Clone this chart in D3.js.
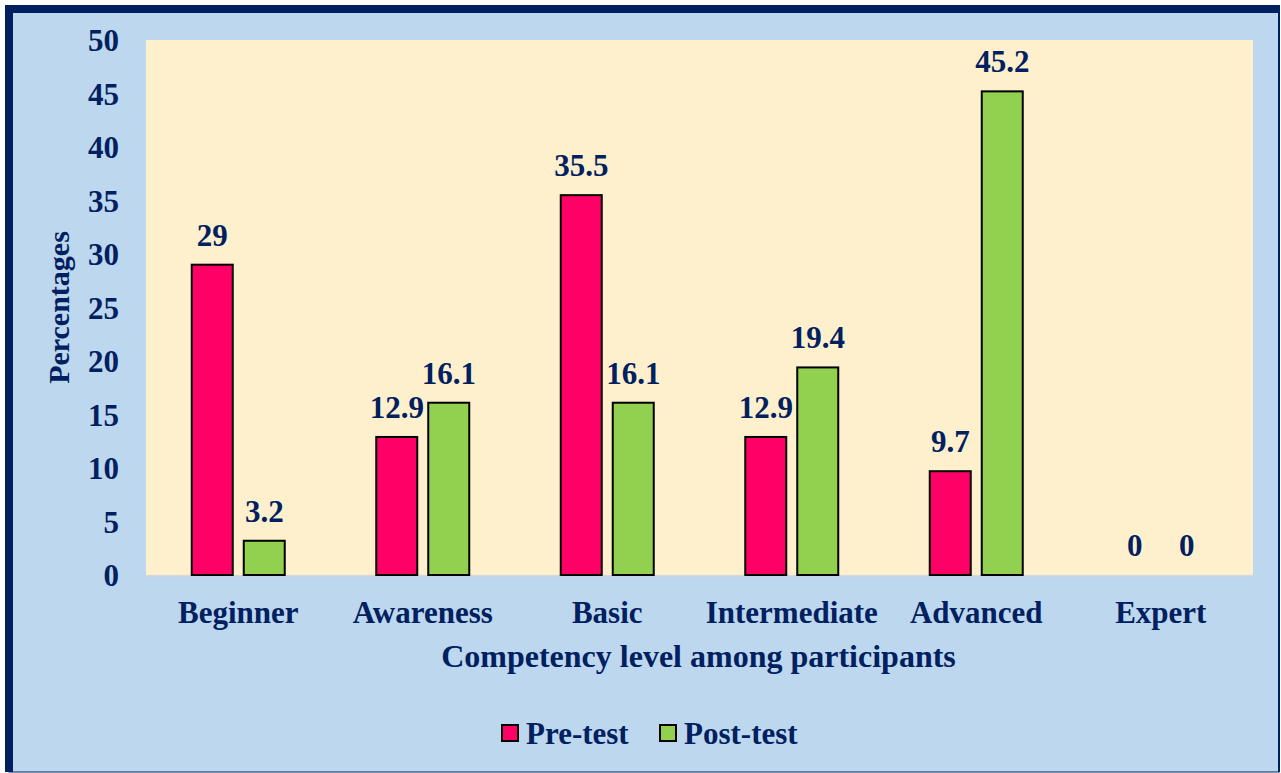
<!DOCTYPE html>
<html>
<head>
<meta charset="utf-8">
<script src="https://cdn.jsdelivr.net/npm/d3@7"></script>
<style>
  body { margin: 0; background: #fff; }
  svg text { font-family: "Liberation Serif", "Times New Roman", serif; font-weight: bold; fill: #002060; }
</style>
</head>
<body>
<div id="chart"></div>
<script>
const categories = ["Beginner", "Awareness", "Basic", "Intermediate", "Advanced", "Expert"];
const preTest = [29, 12.9, 35.5, 12.9, 9.7, 0];
const postTest = [3.2, 16.1, 16.1, 19.4, 45.2, 0];
const yTicks = [0, 5, 10, 15, 20, 25, 30, 35, 40, 45, 50];
const seriesNames = ["Pre-test", "Post-test"];
const seriesColors = ["#ff0066", "#92d050"];

const W = 1281, H = 773;
const m = { left: 146, right: 1253, top: 40, bottom: 575 };
const fs = 31;

const svg = d3.select("#chart").append("svg").attr("width", W).attr("height", H);

// outer frame
svg.append("rect").attr("x", 0).attr("y", 0).attr("width", W).attr("height", H).attr("fill", "#fff");
svg.append("rect").attr("x", 9).attr("y", 9).attr("width", W - 11).attr("height", H - 10)
  .attr("fill", "#bdd7ee").attr("stroke", "#002060").attr("stroke-width", 1);
svg.append("path").attr("d", `M9,${H - 1} V9 H${W - 2}`).attr("fill", "none")
  .attr("stroke", "#002060").attr("stroke-width", 8);
svg.append("line").attr("x1", W - 2).attr("x2", W - 2).attr("y1", 5).attr("y2", H - 1)
  .attr("stroke", "#002060").attr("stroke-width", 2);

// plot area
svg.append("rect").attr("x", m.left).attr("y", m.top)
  .attr("width", m.right - m.left).attr("height", m.bottom - m.top).attr("fill", "#fef0cd");

const x = d3.scaleBand().domain(categories).range([m.left, m.right]);
const y = d3.scaleLinear().domain([0, 50]).range([m.bottom, m.top]);

// baseline
svg.append("line").attr("x1", m.left).attr("x2", m.right).attr("y1", m.bottom + 0.5).attr("y2", m.bottom + 0.5)
  .attr("stroke", "#d9d9d9").attr("stroke-width", 1.5);

// y axis labels
const yAxis = svg.append("g").attr("transform", `translate(${m.left - 27},0)`)
  .call(d3.axisLeft(y).tickValues(yTicks).tickSize(0).tickPadding(0));
yAxis.select(".domain").remove();
yAxis.selectAll("text").attr("font-size", fs).attr("dy", "0.34em");

// x axis labels
const xAxis = svg.append("g").attr("transform", `translate(0,${m.bottom})`)
  .call(d3.axisBottom(x).tickSize(0).tickPadding(0));
xAxis.select(".domain").remove();
xAxis.selectAll("text").attr("font-size", fs).attr("y", 48).attr("dy", 0);

const barW = 41, gap = 11;
const series = [preTest, postTest];
series.forEach((vals, si) => {
  const off = si === 0 ? -gap / 2 - barW : gap / 2;
  const g = svg.append("g");
  g.selectAll("rect").data(vals.map((v, i) => ({ v, c: categories[i] })))
    .join("rect")
    .filter(d => d.v > 0)
    .attr("x", d => x(d.c) + x.bandwidth() / 2 + off)
    .attr("y", d => y(d.v))
    .attr("width", barW)
    .attr("height", d => y(0) - y(d.v))
    .attr("fill", seriesColors[si])
    .attr("stroke", "#000").attr("stroke-width", 2);
  g.selectAll("text").data(vals.map((v, i) => ({ v, c: categories[i] })))
    .join("text")
    .attr("x", d => x(d.c) + x.bandwidth() / 2 + off + barW / 2)
    .attr("y", d => y(d.v) - 19)
    .attr("text-anchor", "middle")
    .attr("font-size", fs)
    .text(d => d.v);
});

// axis titles
svg.append("text").attr("x", (m.left + m.right) / 2 - 1).attr("y", 667)
  .attr("text-anchor", "middle").attr("font-size", 32).text("Competency level among participants");
svg.append("text").attr("transform", `translate(69,${(m.top + m.bottom) / 2}) rotate(-90)`)
  .attr("text-anchor", "middle").attr("font-size", fs - 1).text("Percentages");

// legend
const legendX = [502, 660];
seriesNames.forEach((n, i) => {
  svg.append("rect").attr("x", legendX[i]).attr("y", 725).attr("width", 16).attr("height", 16)
    .attr("fill", seriesColors[i]).attr("stroke", "#000").attr("stroke-width", 2);
  svg.append("text").attr("x", legendX[i] + 24).attr("y", 744).attr("font-size", fs).text(n);
});
</script>
</body>
</html>
